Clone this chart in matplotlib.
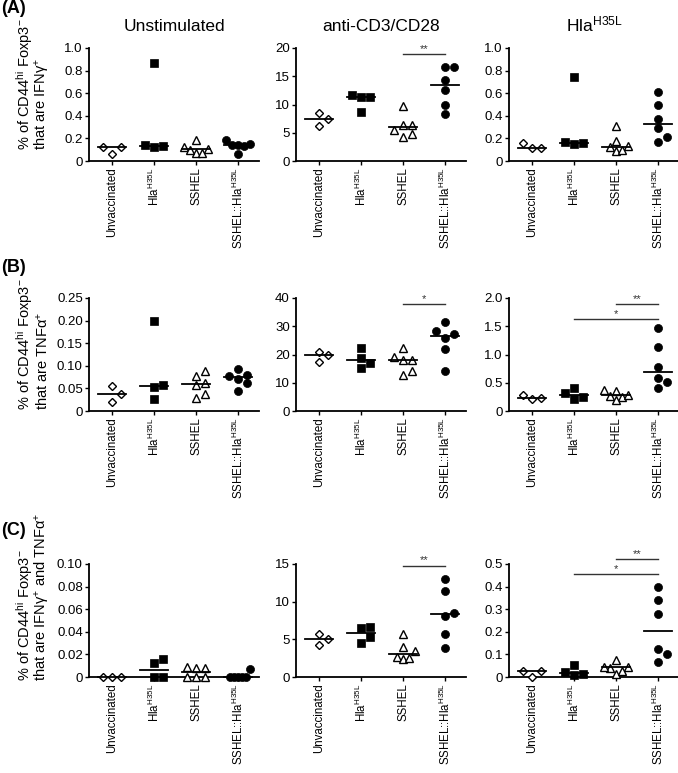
import numpy as np
import matplotlib
matplotlib.use('Agg')
import matplotlib.pyplot as plt

plt.rcParams['font.family'] = ['Liberation Sans', 'DejaVu Sans']
plt.rcParams['mathtext.fontset'] = 'custom'
plt.rcParams['mathtext.rm'] = 'Liberation Sans'
plt.rcParams['mathtext.it'] = 'Liberation Sans:italic'

groups = ['Unvaccinated', 'Hla$^{\\mathrm{H35L}}$', 'SSHEL', 'SSHEL::Hla$^{\\mathrm{H35L}}$']
stims = ['Unstimulated', 'anti-CD3/CD28', 'Hla$^{\\mathrm{H35L}}$']

# values per group: Unvaccinated, Hla, SSHEL, SSHEL::Hla
ifng_unstim = [[0.12, 0.06, 0.12], [0.14, 0.12, 0.13, 0.87],
               [0.19, 0.12, 0.11, 0.07, 0.07, 0.10], [0.14, 0.19, 0.06, 0.13, 0.14, 0.15]]
ifng_cd3 = [[6.2, 8.5, 7.5], [11.4, 11.3, 11.7, 8.6],
            [9.8, 6.4, 6.4, 5.5, 4.3, 4.7], [16.7, 16.7, 14.4, 12.6, 10.0, 8.3]]
ifng_hla = [[0.16, 0.115, 0.115], [0.17, 0.15, 0.155, 0.74],
            [0.31, 0.18, 0.13, 0.09, 0.10, 0.12], [0.61, 0.50, 0.37, 0.29, 0.21, 0.17]]

tnf_unstim = [[0.02, 0.055, 0.038], [0.2, 0.058, 0.052, 0.027],
              [0.088, 0.077, 0.058, 0.062, 0.038, 0.029], [0.093, 0.078, 0.071, 0.08, 0.061, 0.045]]
tnf_cd3 = [[17.3, 20.9, 20.0], [22.4, 15.2, 17.0, 18.9],
           [22.3, 18.1, 18.2, 19.1, 12.8, 14.1], [28.4, 31.6, 25.7, 22.1, 14.3, 27.2]]
tnf_hla = [[0.28, 0.21, 0.23], [0.32, 0.41, 0.21, 0.24],
           [0.35, 0.38, 0.27, 0.24, 0.28, 0.19], [1.47, 1.13, 0.78, 0.585, 0.40, 0.51]]

both_unstim = [[0, 0, 0], [0.0163, 0.0128, 0, 0],
               [0.009, 0.008, 0.008, 0, 0, 0], [0, 0, 0, 0, 0, 0.007]]
both_cd3 = [[4.2, 5.65, 5.1], [6.6, 6.45, 5.25, 4.45],
            [5.65, 4.0, 3.5, 2.6, 2.45, 2.55], [13.0, 11.4, 8.15, 8.45, 5.7, 3.9]]
both_hla = [[0.025, 0.0, 0.025], [0.024, 0.007, 0.015, 0.052],
            [0.074, 0.045, 0.042, 0.045, 0.012, 0.025], [0.40, 0.34, 0.28, 0.126, 0.10, 0.067]]

# significance bars: (from group, to group, height, label)
sig_ifng_cd3 = [(2, 3, 19.0, '**')]
sig_tnf_cd3 = [(2, 3, 38.0, '*')]
sig_tnf_hla = [(2, 3, 1.9, '**'), (1, 3, 1.62, '*')]
sig_both_cd3 = [(2, 3, 14.8, '**')]
sig_both_hla = [(2, 3, 0.52, '**'), (1, 3, 0.455, '*')]

yticks_frac = [0, 0.2, 0.4, 0.6, 0.8, 1.0]
ylabels_frac = ['0', '0.2', '0.4', '0.6', '0.8', '1.0']

rows = [
    [(ifng_unstim, yticks_frac, ylabels_frac, []),
     (ifng_cd3, [0, 5, 10, 15, 20], ['0', '5', '10', '15', '20'], sig_ifng_cd3),
     (ifng_hla, yticks_frac, ylabels_frac, [])],
    [(tnf_unstim, [0, 0.05, 0.10, 0.15, 0.20, 0.25], ['0', '0.05', '0.10', '0.15', '0.20', '0.25'], []),
     (tnf_cd3, [0, 10, 20, 30, 40], ['0', '10', '20', '30', '40'], sig_tnf_cd3),
     (tnf_hla, [0, 0.5, 1.0, 1.5, 2.0], ['0', '0.5', '1.0', '1.5', '2.0'], sig_tnf_hla)],
    [(both_unstim, [0, 0.02, 0.04, 0.06, 0.08, 0.10], ['0', '0.02', '0.04', '0.06', '0.08', '0.10'], []),
     (both_cd3, [0, 5, 10, 15], ['0', '5', '10', '15'], sig_both_cd3),
     (both_hla, [0, 0.1, 0.2, 0.3, 0.4, 0.5], ['0', '0.1', '0.2', '0.3', '0.4', '0.5'], sig_both_hla)],
]

ylab_line1 = '% of CD44$^{\\mathrm{hi}}$ Foxp3$^{-}$'
row_ylab_line2 = [
    'that are IFN\u03b3$^{+}$',
    'that are TNF\u03b1$^{+}$',
    'that are IFN\u03b3$^{+}$ and TNF\u03b1$^{+}$',
]
panel_tags = ['(A)', '(B)', '(C)']

markers = [dict(marker='D', ms=4.0, mfc='white', mec='black', mew=1.0),
           dict(marker='s', ms=5.5, mfc='black', mec='black', mew=0.5),
           dict(marker='^', ms=5.5, mfc='white', mec='black', mew=1.0),
           dict(marker='o', ms=5.8, mfc='black', mec='black', mew=0.5)]

W, H = 678, 773
col_left = [89, 296, 509]
row_top = [48, 298, 564]
ax_w, ax_h = 170, 113
tag_top = [0, 259, 522]
ylab_bottom = [150, 410, 681]


def swarm(ax, xc, vals, d=9.0, max_spread=12.0):
    # simple beeswarm in pixel space, squeezed when it gets too wide
    pts = ax.transData.transform(np.column_stack([np.full(len(vals), xc), vals]))
    px_per_x = ax.transData.transform([[1, 0]])[0, 0] - ax.transData.transform([[0, 0]])[0, 0]
    placed = []
    offs = np.zeros(len(vals))
    for i in np.argsort(vals, kind='stable'):
        y = pts[i, 1]
        for k in [0, 1, -1, 2, -2, 3, -3, 4, -4]:
            dx = k * d
            if all((dx - px) ** 2 + (y - py) ** 2 >= (0.95 * d) ** 2 for px, py in placed):
                break
        placed.append((dx, y))
        offs[i] = dx
    widest = np.abs(offs).max()
    if widest > max_spread:
        offs = offs * max_spread / widest
    return xc + offs / px_per_x


fig = plt.figure(figsize=(W / 100, H / 100), dpi=100)

for r, row in enumerate(rows):
    for c, (data, yt, ytl, sigs) in enumerate(row):
        ax = fig.add_axes([col_left[c] / W, 1 - (row_top[r] + ax_h) / H, ax_w / W, ax_h / H])
        ax.set_xlim(-0.55, 3.5)
        ax.set_ylim(yt[0], yt[-1])
        ax.spines['top'].set_visible(False)
        ax.spines['right'].set_visible(False)
        for s in ['left', 'bottom']:
            ax.spines[s].set_linewidth(1.3)
        ax.set_yticks(yt)
        ax.set_yticklabels(ytl, fontsize=9.5)
        ax.set_xticks(range(4))
        ax.set_xticklabels(groups, rotation=90, fontsize=8.3)
        ax.tick_params(axis='both', length=3, width=1, pad=1.5)
        for gi, vals in enumerate(data):
            xs = swarm(ax, gi, vals)
            ax.plot(xs, vals, ls='none', clip_on=False, zorder=3, **markers[gi])
            med = np.median(vals)
            ax.plot([gi - 0.33, gi + 0.33], [med, med], color='black', lw=1.3, zorder=4, clip_on=False)
        for x1, x2, y, txt in sigs:
            ax.plot([x1, x2], [y, y], color='#333333', lw=1.0, clip_on=False)
            ax.text((x1 + x2) / 2, y, txt, ha='center', va='bottom', fontsize=8, color='#333333')
        if r == 0:
            ax.set_title(stims[c], fontsize=12.5, pad=12)
    fig.text(25 / W, 1 - ylab_bottom[r] / H, ylab_line1, rotation=90, ha='center', va='bottom', fontsize=10.5)
    fig.text(43 / W, 1 - ylab_bottom[r] / H, row_ylab_line2[r], rotation=90, ha='center', va='bottom',
             fontsize=10.5)
    fig.text(1 / W, 1 - tag_top[r] / H, panel_tags[r], ha='left', va='top', fontsize=13, fontweight='bold')

fig.savefig('out.png', dpi=100)
